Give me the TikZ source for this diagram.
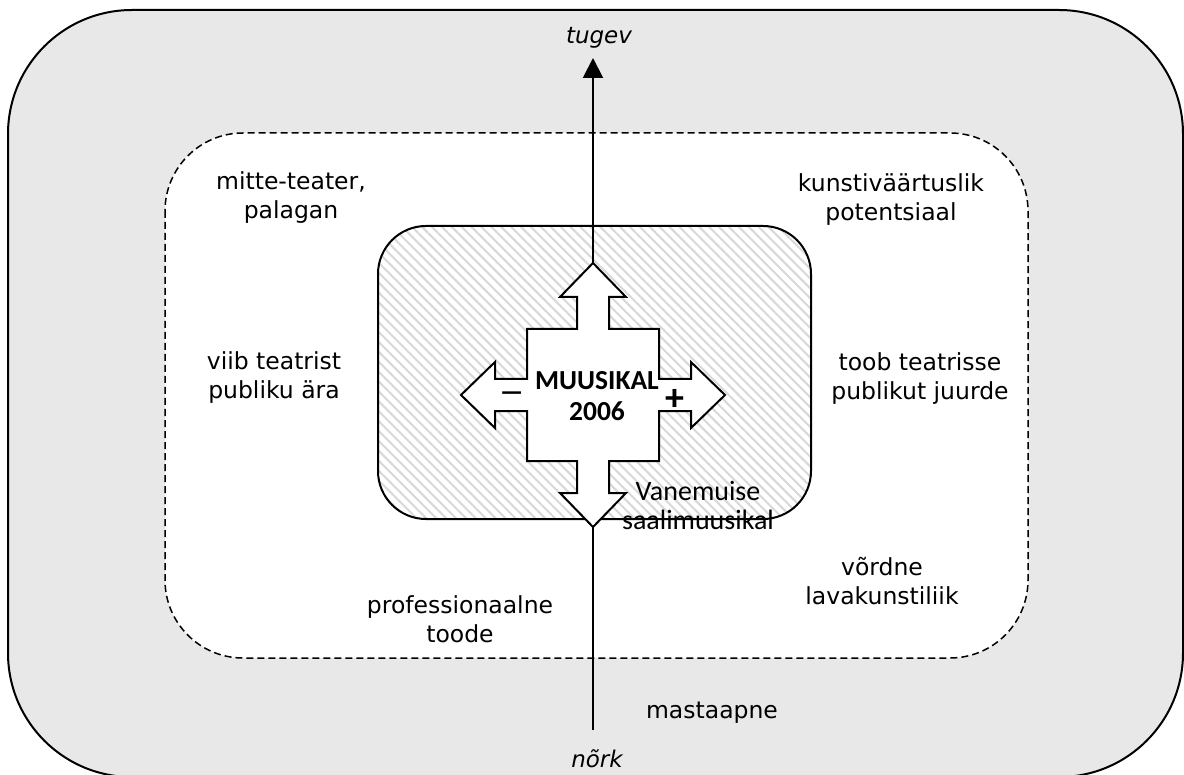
\documentclass[tikz,border=0pt]{standalone}
\usepackage{fontspec}
\setmainfont{DejaVu Sans}
\newfontfamily\calib{Carlito}
\usetikzlibrary{arrows.meta,patterns.meta}
\definecolor{outerfill}{HTML}{E8E8E8}
\definecolor{hatchgray}{HTML}{D8D8D8}
\begin{document}
\begin{tikzpicture}[x=0.5pt,y=-0.5pt,
  lbl/.style={font=\fontsize{11.75}{14.5}\selectfont, align=center, inner sep=0pt},
  ital/.style={font=\fontsize{11.5}{14}\selectfont\itshape, inner sep=0pt},
  core/.style={font=\calib\bfseries\fontsize{13.75}{15.25}\selectfont, align=center, inner sep=0pt},
  corelbl/.style={font=\calib\fontsize{14}{14.5}\selectfont, align=center, inner sep=0pt},
  sign/.style={font=\calib\bfseries\fontsize{19}{20}\selectfont, inner sep=0pt},
  minussign/.style={font=\fontsize{15}{16}\selectfont, inner sep=0pt},
  outerbox/.style={line width=1pt, fill=outerfill, rounded corners=62pt},
  midbox/.style={line width=0.75pt, dash pattern=on 3.5pt off 2pt, fill=white, rounded corners=39pt},
  corebox/.style={line width=1pt, pattern={Lines[angle=-45,distance=3.5pt,line width=1pt]}, pattern color=hatchgray, rounded corners=24pt},
  crossshape/.style={line width=1pt, fill=white, line join=miter},
  axis/.style={line width=1pt, -{Triangle[length=10pt,width=10pt]}}
]
\useasboundingbox (0,0) rectangle (1184,775);
\clip (0,0) rectangle (1184,775);
% frames
\draw[outerbox] (8,10) rectangle (1183,777);
\draw[midbox] (165,133) rectangle (1028,658);
\draw[fill=white, draw=none, rounded corners=24pt] (378,226) rectangle (811,519);
\draw[corebox] (378,226) rectangle (811,519);
% axis
\coordinate (axbot) at (593,730);
\coordinate (axtop) at (593,58);
\draw[axis] (axbot) -- (axtop);
% cross of four arrows
\draw[crossshape, shift={(593,395)}]
  (0,-132) -- (33,-98) -- (16,-98) -- (16,-66) -- (66,-66) -- (66,-16) -- (98,-16) -- (98,-33)
  -- (132,0) -- (98,33) -- (98,16) -- (66,16) -- (66,66) -- (16,66) -- (16,98) -- (33,98)
  -- (0,132) -- (-33,98) -- (-16,98) -- (-16,66) -- (-66,66) -- (-66,16) -- (-98,16) -- (-98,33)
  -- (-132,0) -- (-98,-33) -- (-98,-16) -- (-66,-16) -- (-66,-66) -- (-16,-66) -- (-16,-98) -- (-33,-98) -- cycle;
% texts
\node[core] (muus) at (597,396) {MUUSIKAL\\2006};
\node[minussign] (minus) at (512,397) {−};
\node[sign] (plus) at (675,400) {+};
\node[corelbl] (vane) at (698,505) {Vanemuise\\saalimuusikal};
\node[ital] (tugev) at (599,38) {tugev};
\node[ital] (nork) at (597,759) {nõrk};
\node[lbl] (mitte) at (291,198) {mitte-teater,\\palagan};
\node[lbl] (viib) at (274,378) {viib teatrist\\publiku ära};
\node[lbl] (kunst) at (891,200) {kunstiväärtuslik\\potentsiaal};
\node[lbl] (toob) at (920,379) {toob teatrisse\\publikut juurde};
\node[lbl] (prof) at (460,619) {professionaalne\\toode};
\node[lbl] (vord) at (882,581) {võrdne\\lavakunstiliik};
\node[lbl] (mast) at (712,713) {mastaapne};
\end{tikzpicture}
\end{document}
